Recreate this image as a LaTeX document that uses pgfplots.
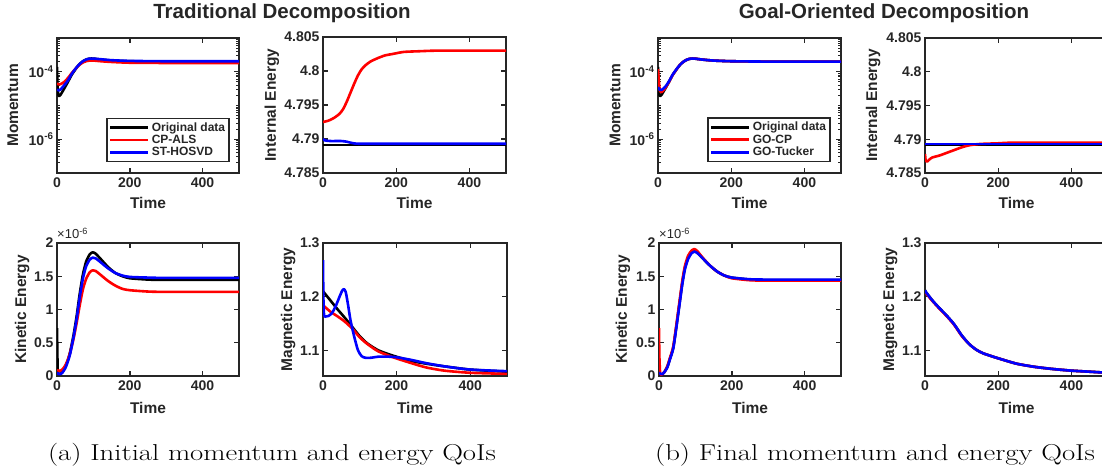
\documentclass[border=0pt]{standalone}
\usepackage{fontspec}
\usepackage{graphicx}
\usepackage{pgfplots}
\pgfplotsset{compat=1.18}
\newfontfamily\lsans{Liberation Sans}
\definecolor{txt}{RGB}{38,38,38}
\pgfplotsset{
  qoi/.style={
    scale only axis, anchor=south west,
    xmin=0, xmax=500, xtick={0,200,400}, xticklabels={0,200,400},
    scaled ticks=false,
    axis line style={line width=2.4pt, draw=txt},
    tick style={line width=1.4pt, draw=txt},
    minor tick style={line width=1.0pt, draw=txt},
    tick align=inside,
    major tick length=5pt, minor tick length=3pt,
    xlabel={Time},
    label style={font=\lsans\bfseries\fontsize{15.5}{16}\selectfont, text=txt},
    tick label style={font=\lsans\bfseries\fontsize{14}{14}\selectfont, text=txt},
    /pgf/number format/assume math mode=true,
    xticklabel style={yshift=-1pt},
    every axis plot/.append style={line width=2.6pt, line join=round, smooth, tension=0.4},
    legend style={draw=txt, line width=1.6pt, font=\lsans\bfseries\fontsize{12}{13}\selectfont, text=txt,
      inner sep=2pt, row sep=-1.5pt, cells={anchor=west}},
    legend image code/.code={\draw[##1, line width=2.6pt] (0pt,0pt) -- (38pt,0pt);},
  },
  ie/.style={ymin=4.785, ymax=4.805, ytick={4.785,4.79,4.795,4.8,4.805},
    yticklabels={4.785,4.79,4.795,4.8,4.805}, ylabel={Internal Energy}},
  ke/.style={ymin=0, ymax=2, ytick={0,0.5,1,1.5,2}, yticklabels={0,0.5,1,1.5,2}, ylabel={Kinetic Energy}},
  me/.style={ymin=1.052, ymax=1.3, ytick={1.1,1.2,1.3}, yticklabels={1.1,1.2,1.3}, ylabel={Magnetic Energy}},
}
\begin{document}
\begin{tikzpicture}
\path[use as bounding box] (0pt,0pt) rectangle (1102pt,475pt);

% ---------- Left group: Traditional ----------
\begin{axis}[qoi, ymode=log, ymin=1e-7, ymax=1e-3, ytick={1e-6,1e-4},
  yticklabels={10\textsuperscript{-6},10\textsuperscript{-4}},
  minor ytick={2e-7,3e-7,4e-7,5e-7,6e-7,7e-7,8e-7,9e-7,1e-6,2e-6,3e-6,4e-6,5e-6,6e-6,7e-6,8e-6,9e-6,1e-5,2e-5,3e-5,4e-5,5e-5,6e-5,7e-5,8e-5,9e-5,1e-4,2e-4,3e-4,4e-4,5e-4,6e-4,7e-4,8e-4,9e-4},
  ylabel={Momentum},
  at={(57pt,302pt)}, width=182pt, height=135pt,
  ylabel style={at={(axis description cs:-0.242,0.5)}, anchor=center},
  xlabel style={at={(axis description cs:0.5,-0.222)}, anchor=center},
  legend style={at={(0.95,0.08)}, anchor=south east}]
\addplot[black] coordinates {(0,1.4e-4) (1,5e-5) (3,2.2e-5) (6,1.9e-5) (10,2.1e-5) (20,3.2e-5) (30,5e-5) (40,8e-5) (50,1.15e-4) (60,1.6e-4) (70,2e-4) (80,2.3e-4) (90,2.45e-4) (100,2.45e-4) (120,2.3e-4) (150,2.15e-4) (200,2.05e-4) (300,2e-4) (500,2e-4)};
\addplot[red] coordinates {(0,4.5e-5) (5,4.2e-5) (10,4.3e-5) (20,5e-5) (30,6.5e-5) (40,9e-5) (50,1.2e-4) (60,1.55e-4) (70,1.85e-4) (80,2.05e-4) (90,2.15e-4) (100,2.15e-4) (120,2.05e-4) (150,1.95e-4) (200,1.85e-4) (300,1.82e-4) (500,1.82e-4)};
\addplot[blue] coordinates {(0,3e-5) (5,2.8e-5) (10,3e-5) (20,4e-5) (30,5.5e-5) (40,8.5e-5) (50,1.2e-4) (60,1.6e-4) (70,2e-4) (80,2.3e-4) (90,2.45e-4) (100,2.45e-4) (120,2.35e-4) (150,2.2e-4) (200,2.1e-4) (300,2.05e-4) (500,2.05e-4)};
\legend{Original data, CP-ALS, ST-HOSVD}
\end{axis}

\begin{axis}[qoi, ie, at={(323pt,302pt)}, width=183pt, height=136pt,
  ylabel style={at={(axis description cs:-0.279,0.5)}, anchor=center},
  xlabel style={at={(axis description cs:0.5,-0.22)}, anchor=center}]
\addplot[black] coordinates {(0,4.7891) (250,4.7891) (500,4.7891)};
\addplot[red] coordinates {(0,4.7925) (15,4.7927) (30,4.7931) (45,4.7937) (55,4.7944) (65,4.7955) (75,4.7968) (85,4.7981) (95,4.7993) (105,4.8002) (115,4.8008) (130,4.8014) (150,4.8019) (170,4.8023) (190,4.8025) (220,4.8028) (260,4.8029) (320,4.8030) (500,4.8030)};
\addplot[blue] coordinates {(0,4.7900) (5,4.7898) (20,4.7897) (50,4.7897) (65,4.7896) (80,4.7894) (100,4.7893) (200,4.7893) (500,4.7893)};
\end{axis}

\begin{axis}[qoi, ke, at={(57pt,99pt)}, width=182pt, height=133pt, name=ke1,
  ylabel style={at={(axis description cs:-0.192,0.5)}, anchor=center},
  xlabel style={at={(axis description cs:0.5,-0.24)}, anchor=center}]
\addplot[black] coordinates {(0,0.72) (1,0.35) (2,0.08) (5,0.03) (10,0.03) (15,0.06) (23,0.14) (30,0.24) (36,0.36) (45,0.6) (54,0.9) (62,1.22) (71,1.52) (80,1.72) (90,1.83) (98,1.86) (106,1.84) (120,1.76) (140,1.64) (160,1.55) (180,1.5) (200,1.47) (250,1.45) (300,1.445) (500,1.445)};
\addplot[red] coordinates {(0,0.09) (5,0.08) (10,0.08) (15,0.1) (23,0.16) (30,0.25) (36,0.35) (45,0.55) (54,0.8) (62,1.05) (71,1.3) (80,1.46) (90,1.56) (98,1.59) (106,1.58) (120,1.52) (140,1.43) (160,1.36) (180,1.31) (200,1.29) (250,1.27) (300,1.265) (500,1.265)};
\addplot[blue] coordinates {(0,0.05) (5,0.03) (10,0.03) (15,0.05) (23,0.12) (30,0.22) (36,0.33) (45,0.57) (54,0.86) (62,1.17) (71,1.46) (80,1.65) (90,1.75) (98,1.78) (106,1.77) (120,1.71) (140,1.62) (160,1.55) (180,1.51) (200,1.49) (250,1.48) (300,1.475) (500,1.475)};
\end{axis}
\node[anchor=south west, inner sep=0pt, font=\lsans\fontsize{13}{13}\selectfont, text=txt] at ([yshift=4pt]ke1.north west) {×10\textsuperscript{-6}};

\begin{axis}[qoi, me, at={(323pt,99pt)}, width=184pt, height=133pt,
  ylabel style={at={(axis description cs:-0.19,0.5)}, anchor=center},
  xlabel style={at={(axis description cs:0.5,-0.24)}, anchor=center}]
\addplot[black] coordinates {(0,1.210) (20,1.193) (40,1.176) (60,1.160) (80,1.143) (100,1.126) (120,1.113) (150,1.100) (190,1.090) (240,1.080) (280,1.075) (330,1.070) (400,1.064) (500,1.060)};
\addplot[red] coordinates {(0,1.184) (20,1.172) (40,1.163) (60,1.153) (80,1.140) (100,1.124) (120,1.112) (150,1.098) (190,1.087) (240,1.076) (280,1.068) (330,1.062) (400,1.058) (500,1.056)};
\addplot[blue] coordinates {(0,1.268) (1,1.20) (3,1.165) (8,1.163) (15,1.164) (25,1.170) (35,1.183) (45,1.200) (52,1.211) (57,1.214) (62,1.208) (68,1.185) (75,1.155) (85,1.125) (95,1.10) (105,1.089) (115,1.086) (130,1.086) (150,1.088) (180,1.088) (200,1.087) (240,1.082) (280,1.076) (330,1.070) (400,1.064) (500,1.061)};
\end{axis}

% ---------- Right group: Goal-Oriented ----------
\begin{axis}[qoi, ymode=log, ymin=1e-7, ymax=1e-3, ytick={1e-6,1e-4},
  yticklabels={10\textsuperscript{-6},10\textsuperscript{-4}},
  minor ytick={2e-7,3e-7,4e-7,5e-7,6e-7,7e-7,8e-7,9e-7,1e-6,2e-6,3e-6,4e-6,5e-6,6e-6,7e-6,8e-6,9e-6,1e-5,2e-5,3e-5,4e-5,5e-5,6e-5,7e-5,8e-5,9e-5,1e-4,2e-4,3e-4,4e-4,5e-4,6e-4,7e-4,8e-4,9e-4},
  ylabel={Momentum},
  at={(658pt,302pt)}, width=183pt, height=135pt,
  ylabel style={at={(axis description cs:-0.235,0.5)}, anchor=center},
  xlabel style={at={(axis description cs:0.5,-0.222)}, anchor=center},
  legend style={at={(0.945,0.08)}, anchor=south east}]
\addplot[black] coordinates {(0,1.4e-4) (1,5e-5) (3,2.2e-5) (6,1.9e-5) (10,2.1e-5) (20,3.2e-5) (30,5e-5) (40,8e-5) (50,1.15e-4) (60,1.6e-4) (70,2e-4) (80,2.3e-4) (90,2.45e-4) (100,2.45e-4) (120,2.3e-4) (150,2.15e-4) (200,2.05e-4) (300,2e-4) (500,2e-4)};
\addplot[red] coordinates {(0,1.2e-4) (2,6e-5) (5,2.8e-5) (10,2.5e-5) (20,3.3e-5) (30,5e-5) (40,8e-5) (50,1.15e-4) (60,1.6e-4) (70,2e-4) (80,2.3e-4) (90,2.45e-4) (100,2.45e-4) (120,2.3e-4) (150,2.15e-4) (200,2.05e-4) (300,2e-4) (500,2e-4)};
\addplot[blue] coordinates {(0,3.5e-5) (5,2.9e-5) (10,2.9e-5) (20,3.6e-5) (30,5.2e-5) (40,8.2e-5) (50,1.17e-4) (60,1.6e-4) (70,2e-4) (80,2.3e-4) (90,2.45e-4) (100,2.45e-4) (120,2.3e-4) (150,2.15e-4) (200,2.05e-4) (300,2e-4) (500,2e-4)};
\legend{Original data, GO-CP, GO-Tucker}
\end{axis}

\begin{axis}[qoi, ie, at={(925pt,302pt)}, width=183pt, height=135pt,
  ylabel style={at={(axis description cs:-0.284,0.5)}, anchor=center},
  xlabel style={at={(axis description cs:0.5,-0.222)}, anchor=center}]
\addplot[black] coordinates {(0,4.7892) (250,4.7892) (500,4.7892)};
\addplot[red] coordinates {(0,4.7878) (2,4.7868) (6,4.7867) (12,4.7870) (20,4.7873) (40,4.7876) (60,4.7880) (80,4.7884) (100,4.7888) (120,4.7891) (150,4.7893) (200,4.7894) (250,4.7895) (500,4.7895)};
\addplot[blue] coordinates {(0,4.7893) (250,4.7893) (500,4.7893)};
\end{axis}

\begin{axis}[qoi, ke, at={(659pt,99pt)}, width=182pt, height=133pt, name=ke2,
  ylabel style={at={(axis description cs:-0.198,0.5)}, anchor=center},
  xlabel style={at={(axis description cs:0.5,-0.24)}, anchor=center}]
\addplot[black] coordinates {(0,0.04) (5,0.02) (10,0.03) (15,0.06) (23,0.14) (30,0.26) (39,0.42) (47,0.72) (57,1.12) (64,1.4) (71,1.62) (80,1.78) (90,1.86) (97,1.88) (105,1.86) (120,1.77) (140,1.66) (160,1.57) (180,1.51) (200,1.48) (250,1.45) (300,1.44) (500,1.44)};
\addplot[red] coordinates {(0,0.72) (1,0.3) (3,0.05) (6,0.02) (10,0.03) (15,0.06) (23,0.15) (30,0.27) (39,0.44) (47,0.74) (57,1.15) (64,1.43) (71,1.65) (80,1.81) (90,1.89) (97,1.91) (105,1.88) (120,1.78) (140,1.66) (160,1.57) (180,1.51) (200,1.47) (250,1.44) (300,1.435) (500,1.435)};
\addplot[blue] coordinates {(0,0.05) (5,0.03) (10,0.03) (15,0.06) (23,0.13) (30,0.25) (39,0.41) (47,0.70) (57,1.10) (64,1.38) (71,1.60) (80,1.76) (90,1.85) (97,1.87) (105,1.85) (120,1.77) (140,1.66) (160,1.57) (180,1.51) (200,1.48) (250,1.455) (300,1.45) (500,1.45)};
\end{axis}
\node[anchor=south west, inner sep=0pt, font=\lsans\fontsize{13}{13}\selectfont, text=txt] at ([yshift=4pt]ke2.north west) {×10\textsuperscript{-6}};

\begin{axis}[qoi, me, at={(925pt,99pt)}, width=183pt, height=133pt,
  ylabel style={at={(axis description cs:-0.191,0.5)}, anchor=center},
  xlabel style={at={(axis description cs:0.5,-0.24)}, anchor=center}]
\addplot[black] coordinates {(0,1.212) (3,1.208) (20,1.193) (40,1.178) (60,1.164) (80,1.148) (100,1.128) (120,1.112) (140,1.101) (160,1.094) (200,1.085) (250,1.075) (300,1.069) (350,1.065) (400,1.062) (450,1.060) (500,1.058)};
\addplot[red] coordinates {(0,1.210) (3,1.206) (20,1.192) (40,1.177) (60,1.163) (80,1.147) (100,1.127) (120,1.112) (140,1.101) (160,1.094) (200,1.085) (250,1.075) (300,1.069) (350,1.065) (400,1.062) (450,1.060) (500,1.058)};
\addplot[blue] coordinates {(0,1.212) (3,1.208) (20,1.193) (40,1.178) (60,1.164) (80,1.148) (100,1.128) (120,1.112) (140,1.101) (160,1.094) (200,1.085) (250,1.075) (300,1.069) (350,1.065) (400,1.062) (450,1.060) (500,1.058)};
\end{axis}

% ---------- Titles and captions ----------
\node[font=\lsans\bfseries\fontsize{20.5}{22}\selectfont, text=txt] at (282pt,462pt) {Traditional Decomposition};
\node[font=\lsans\bfseries\fontsize{20.5}{22}\selectfont, text=txt] at (884pt,462pt) {Goal-Oriented Decomposition};
\node[font=\fontsize{23}{25}\selectfont] at (272pt,20pt) {\scalebox{1.25}[1]{(a) Initial momentum and energy QoIs}};
\node[font=\fontsize{23}{25}\selectfont] at (875pt,20pt) {\scalebox{1.25}[1]{(b) Final momentum and energy QoIs}};
\end{tikzpicture}
\end{document}
